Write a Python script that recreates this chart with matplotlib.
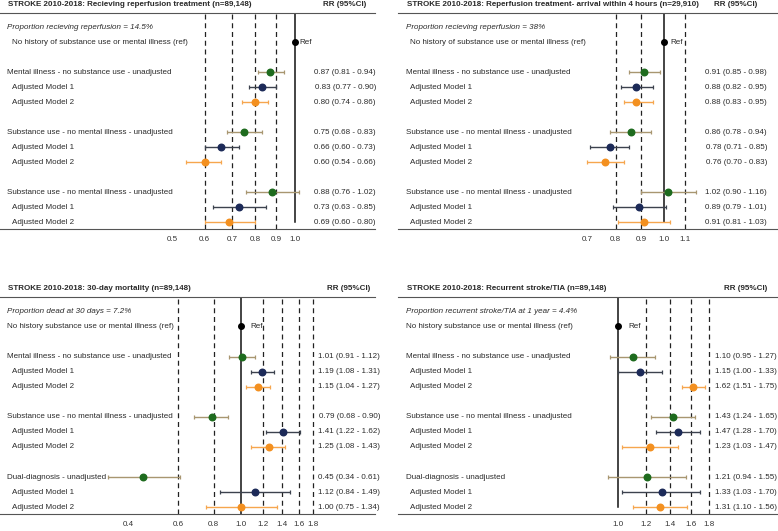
import numpy as np
import matplotlib
matplotlib.use("Agg")
import matplotlib.pyplot as plt
from matplotlib.transforms import blended_transform_factory

plt.rcParams['font.family'] = ['Liberation Sans', 'DejaVu Sans']

# ---------------- data ----------------
titles = [
    "STROKE 2010-2018: Recieving reperfusion treatment (n=89,148)",
    "STROKE 2010-2018: Reperfusion treatment- arrival within 4 hours (n=29,910)",
    "STROKE 2010-2018: 30-day mortality (n=89,148)",
    "STROKE 2010-2018: Recurrent stroke/TIA (n=89,148)",
]
proportions = [
    "Proportion recieving reperfusion = 14.5%",
    "Proportion recieving reperfusion = 38%",
    "Proportion dead at 30 days = 7.2%",
    "Proportion recurrent stroke/TIA at 1 year = 4.4%",
]
ref_labels = [
    "No history of substance use or mental illness (ref)",
    "No history of substance use or mental illness (ref)",
    "No history substance use or mental illness (ref)",
    "No history substance use or mental illness (ref)",
]
group_labels = [
    ["Mental illness - no substance use - unadjusted",
     "Substance use - no mental illness - unadjusted",
     "Substance use - no mental illness - unadjusted"],
    ["Mental illness - no substance use - unadjusted",
     "Substance use - no mental illness - unadjusted",
     "Substance use - no mental illness - unadjusted"],
    ["Mental illness - no substance use - unadjusted",
     "Substance use - no mental illness - unadjusted",
     "Dual-diagnosis - unadjusted"],
    ["Mental illness - no substance use - unadjusted",
     "Substance use - no mental illness - unadjusted",
     "Dual-diagnosis - unadjusted"],
]
model_labels = ["Adjusted Model 1", "Adjusted Model 2"]

# RR, lower, upper per panel: rows = [unadj, model1, model2] x 3 groups
rr_p1 = [0.87, 0.83, 0.80, 0.75, 0.66, 0.60, 0.88, 0.73, 0.69]
lo_p1 = [0.81, 0.77, 0.74, 0.68, 0.60, 0.54, 0.76, 0.63, 0.60]
hi_p1 = [0.94, 0.90, 0.86, 0.83, 0.73, 0.66, 1.02, 0.85, 0.80]

rr_p2 = [0.91, 0.88, 0.88, 0.86, 0.78, 0.76, 1.02, 0.89, 0.91]
lo_p2 = [0.85, 0.82, 0.83, 0.78, 0.71, 0.70, 0.90, 0.79, 0.81]
hi_p2 = [0.98, 0.95, 0.95, 0.94, 0.85, 0.83, 1.16, 1.01, 1.03]

rr_p3 = [1.01, 1.19, 1.15, 0.79, 1.41, 1.25, 0.45, 1.12, 1.00]
lo_p3 = [0.91, 1.08, 1.04, 0.68, 1.22, 1.08, 0.34, 0.84, 0.75]
hi_p3 = [1.12, 1.31, 1.27, 0.90, 1.62, 1.43, 0.61, 1.49, 1.34]

rr_p4 = [1.10, 1.15, 1.62, 1.43, 1.47, 1.23, 1.21, 1.33, 1.31]
lo_p4 = [0.95, 1.00, 1.51, 1.24, 1.28, 1.03, 0.94, 1.03, 1.10]
hi_p4 = [1.27, 1.33, 1.75, 1.65, 1.70, 1.47, 1.55, 1.70, 1.56]

ticks = [
    [0.5, 0.6, 0.7, 0.8, 0.9, 1.0],
    [0.7, 0.8, 0.9, 1.0, 1.1],
    [0.4, 0.6, 0.8, 1.0, 1.2, 1.4, 1.6, 1.8],
    [1.0, 1.2, 1.4, 1.6, 1.8],
]
dashed_lines = [
    [0.6, 0.7, 0.8, 0.9],
    [0.8, 0.9, 1.1],
    [0.6, 0.8, 1.2, 1.4, 1.6, 1.8],
    [1.2, 1.4, 1.6, 1.8],
]

# ---------------- layout (pixels) ----------------
W, H = 778, 531
panels = [
    dict(l=0, r=375, t=13, b=229, xlim=(0.189, 1.571), ref_off=2, solid_full=False,
         lab_x=7, ind_x=12, rt_x=376),
    dict(l=398, r=778, t=13, b=229, xlim=(0.292, 1.695), ref_off=3, solid_full=False,
         lab_x=406, ind_x=410, rt_x=767),
    dict(l=0, r=375, t=297, b=514, xlim=(0.141, 2.97), ref_off=5, solid_full=True,
         lab_x=7, ind_x=12, rt_x=380),
    dict(l=398, r=778, t=297, b=514, xlim=(0.242, 2.81), ref_off=6, solid_full=False,
         lab_x=406, ind_x=410, rt_x=777),
]
data = [(rr_p1, lo_p1, hi_p1), (rr_p2, lo_p2, hi_p2),
        (rr_p3, lo_p3, hi_p3), (rr_p4, lo_p4, hi_p4)]

marker_cols = ["#1e6b1e", "#1c2a58", "#f39020"]
bar_cols = ["#a89670", "#3c424e", "#f6a64e"]

FS = 5.8
TXT = '#2a2a2a'
fig = plt.figure(figsize=(W / 100, H / 100), dpi=100)

row_y = [3, 4, 5, 7, 8, 9, 11, 12, 13]

for i, p in enumerate(panels):
    ax = fig.add_axes([p['l'] / W, 1 - p['b'] / H, (p['r'] - p['l']) / W, (p['b'] - p['t']) / H])
    ax.set_xscale('log')
    ax.set_xlim(*p['xlim'])
    ax.set_ylim(13.45, -0.95)
    for s in ['left', 'right']:
        ax.spines[s].set_visible(False)
    for s in ['top', 'bottom']:
        ax.spines[s].set_color('#555555')
        ax.spines[s].set_linewidth(0.8)
    ax.set_yticks([])
    ax.set_xticks(ticks[i])
    ax.set_xticklabels([f"{t:.1f}" for t in ticks[i]])
    ax.xaxis.set_minor_locator(matplotlib.ticker.NullLocator())
    ax.tick_params(axis='x', length=0, labelsize=FS, pad=5, colors='#333333')

    for d in dashed_lines[i]:
        ax.axvline(d, color='#222222', lw=0.9, ls=(0, (4, 3)), zorder=1)
    if p['solid_full']:
        ax.axvline(1.0, color='#111111', lw=1.1, zorder=1)
    else:
        ax.plot([1.0, 1.0], [-0.95, 13.0], color='#111111', lw=1.1, zorder=1)

    rr, lo, hi = data[i]
    for k in range(9):
        c = k % 3
        y = row_y[k]
        ax.errorbar(rr[k], y, xerr=[[rr[k] - lo[k]], [hi[k] - rr[k]]], fmt='none',
                    ecolor=bar_cols[c], elinewidth=1.0, capsize=1.7, capthick=0.9, zorder=2)
        ax.plot(rr[k], y, 'o', color=marker_cols[c], ms=4.7, zorder=3)

    ax.plot(1.0, 1, 'o', color='black', ms=4.0, zorder=3)
    ax.annotate("Ref", (1.0, 1), xytext=(p['ref_off'] + 1.5, 0), textcoords='offset points',
                fontsize=FS, va='center', ha='left', color=TXT)

    trans = blended_transform_factory(ax.transAxes, ax.transData)
    wpx = p['r'] - p['l']
    fx = lambda px: (px - p['l']) / wpx

    ax.text(fx(p['lab_x']), 0, proportions[i], transform=trans, fontsize=FS,
            style='italic', va='center', ha='left', color=TXT)
    ax.text(fx(p['ind_x']) if i < 2 else fx(p['lab_x']), 1, ref_labels[i], transform=trans,
            fontsize=FS, va='center', ha='left', color=TXT)
    for g in range(3):
        ax.text(fx(p['lab_x']), row_y[3 * g], group_labels[i][g], transform=trans,
                fontsize=FS, va='center', ha='left', color=TXT)
        for m in range(2):
            ax.text(fx(p['ind_x']), row_y[3 * g + 1 + m], model_labels[m], transform=trans,
                    fontsize=FS, va='center', ha='left', color=TXT)
    for k in range(9):
        ax.text(fx(p['rt_x']), row_y[k], f"{rr[k]:.2f} ({lo[k]:.2f} - {hi[k]:.2f})",
                transform=trans, fontsize=FS, va='center', ha='right', color=TXT)

    ax.text(fx(p['lab_x'] + 1), 1.0 + 8 / (p['b'] - p['t']), titles[i], transform=ax.transAxes,
            fontsize=FS, fontweight='bold', va='center', ha='left', color=TXT)
    ax.text(fx(p['rt_x'] - 10), 1.0 + 8 / (p['b'] - p['t']), "RR (95%CI)", transform=ax.transAxes,
            fontsize=FS, fontweight='bold', va='center', ha='right', color=TXT)

fig.savefig("out.png", dpi=100)
